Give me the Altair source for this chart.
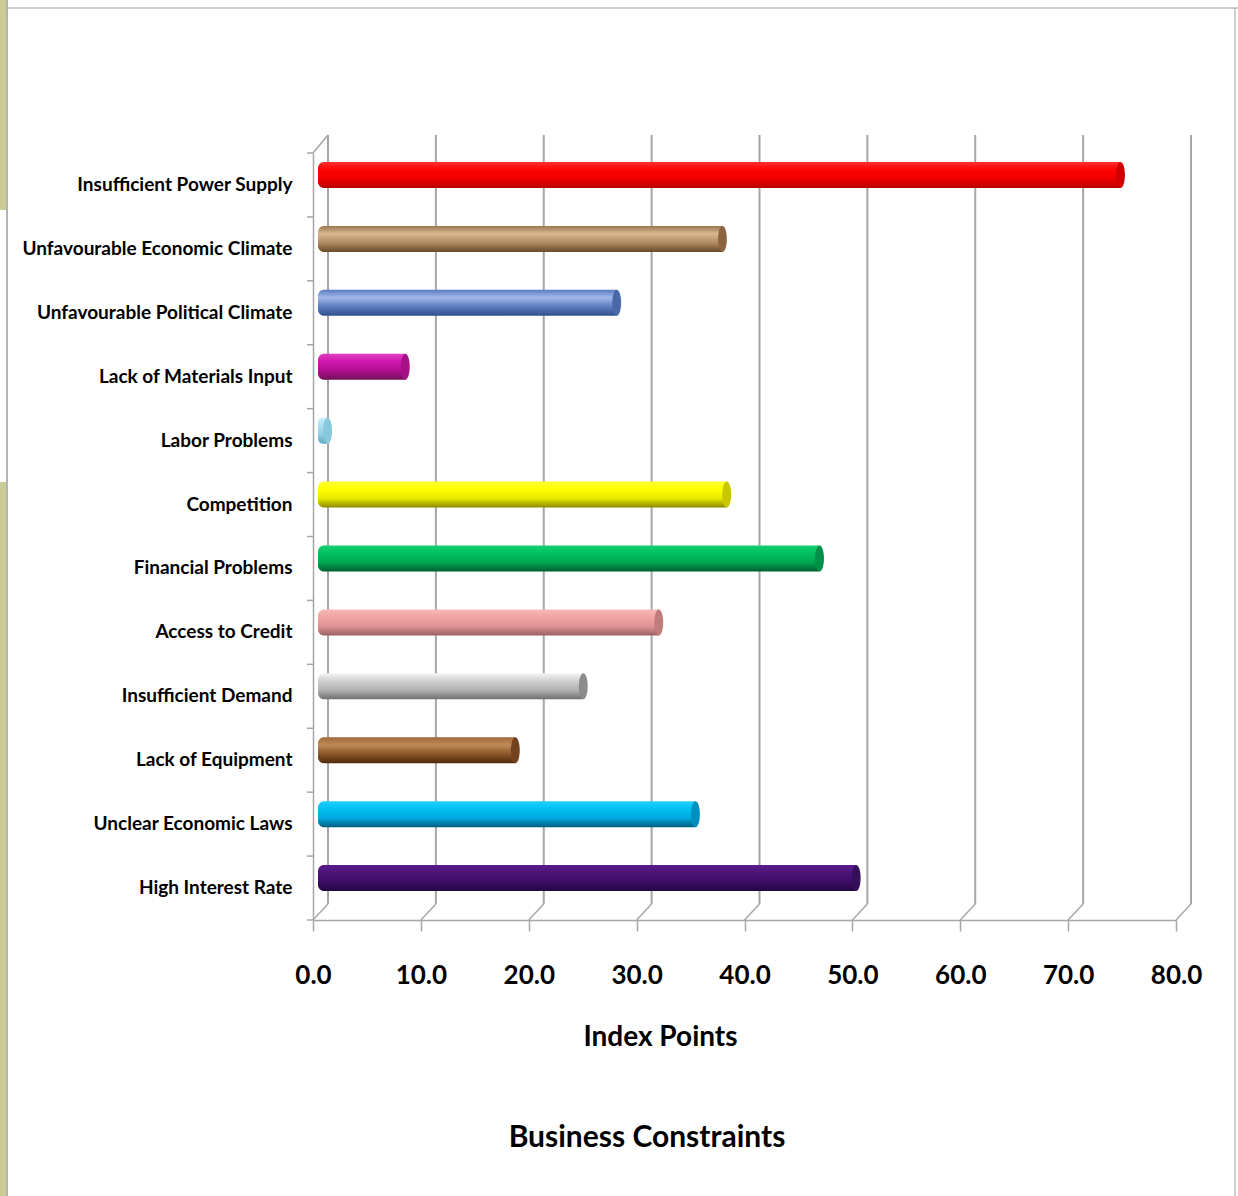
import altair as alt
import pandas as pd

categories = [
    "Insufficient Power Supply",
    "Unfavourable Economic Climate",
    "Unfavourable Political  Climate",
    "Lack of Materials  Input",
    "Labor Problems",
    "Competition",
    "Financial Problems",
    "Access to Credit",
    "Insufficient Demand",
    "Lack of Equipment",
    "Unclear Economic Laws",
    "High Interest Rate",
]
values = [74.8, 37.9, 28.1, 8.5, 1.3, 38.3, 46.9, 32.0, 25.0, 18.7, 35.4, 50.3]

# gradient stops (top -> bottom) and cap colour per bar
bar_stops = [
    ["#ff3030", "#ff0000", "#f00000", "#b80000"],
    ["#9a7650", "#d8b890", "#b08a60", "#6a4a2a"],
    ["#5a7cc0", "#a0b8ea", "#5c7cc0", "#2f4f8a"],
    ["#e040c0", "#d018b0", "#b01090", "#701058"],
    ["#c8eef8", "#a8e0f0", "#90d0e4", "#60a8c0"],
    ["#ffff30", "#ffff00", "#e8e800", "#8a8a00"],
    ["#10d070", "#00c060", "#00a850", "#005e30"],
    ["#f8b8b8", "#f0a4a4", "#e09494", "#9a6060"],
    ["#f4f4f4", "#d0d0d0", "#b0b0b0", "#707070"],
    ["#a06a38", "#c08a58", "#8a5628", "#4e2a0e"],
    ["#20d0ff", "#00c0f0", "#00a8e0", "#00607e"],
    ["#5a1a8c", "#4c1478", "#3e0c66", "#220640"],
]
cap_colors = ["#d00000", "#8a6540", "#4a68a8", "#a81088", "#88c8dc", "#c8c800",
              "#009048", "#c07c7c", "#8c8c8c", "#74421e", "#0090c0", "#34105a"]

ticks = [0, 10, 20, 30, 40, 50, 60, 70, 80]

W, H = 863, 767
FONT = "Lato"
GRID = "#a6a6a6"
DX, DY = 15, -16

df = pd.DataFrame({"category": categories, "value": values})
tick_df = pd.DataFrame({"t": ticks})
one = pd.DataFrame({"k": [0]})

xscale = alt.Scale(domain=[0, 80])
yscale = alt.Scale(domain=categories, paddingInner=0, paddingOuter=0)

layers = []

# frame decorations
deco = alt.Chart(one)
layers.append(deco.mark_rect(color="#cbcb96").encode(
    x=alt.value(-313), x2=alt.value(-307), y=alt.value(-153), y2=alt.value(57)))
layers.append(deco.mark_rect(color="#cbcb96").encode(
    x=alt.value(-313), x2=alt.value(-307), y=alt.value(329), y2=alt.value(1043)))
layers.append(deco.mark_rule(color="#b4b4b4", strokeWidth=2).encode(
    x=alt.value(-306), y=alt.value(-153), y2=alt.value(1043)))
layers.append(deco.mark_rule(color="#a0a0a0", strokeWidth=1).encode(
    x=alt.value(-306), x2=alt.value(925), y=alt.value(-145)))
layers.append(deco.mark_rule(color="#a0a0a0", strokeWidth=1).encode(
    x=alt.value(922), y=alt.value(-145), y2=alt.value(1043)))

# back wall gridlines
gl = alt.Chart(tick_df)
layers.append(gl.mark_rule(color=GRID, strokeWidth=2, xOffset=DX).encode(
    x=alt.X("t:Q", scale=xscale),
    y=alt.value(-18), y2=alt.value(H + DY)))
# floor diagonals
layers.append(gl.mark_rule(color=GRID, strokeWidth=1.5, x2Offset=DX).encode(
    x=alt.X("t:Q", scale=xscale), x2=alt.X2("t"),
    y=alt.value(H), y2=alt.value(H + DY)))
# top-left wall diagonal
layers.append(deco.mark_rule(color=GRID, strokeWidth=1.5).encode(
    x=alt.value(0), x2=alt.value(DX), y=alt.value(0), y2=alt.value(-18)))
# left ticks at band boundaries
layers.append(alt.Chart(df).mark_rule(color=GRID, strokeWidth=1.5, yOffset=-H / 24).encode(
    y=alt.Y("category:N", scale=yscale, sort=categories),
    x=alt.value(-6), x2=alt.value(0)))
layers.append(deco.mark_rule(color=GRID, strokeWidth=1.5).encode(
    y=alt.value(H), x=alt.value(-6), x2=alt.value(0)))

ellipse = "M0,-1 A0.34,1 0 1,1 0,1 A0.34,1 0 1,1 0,-1 Z"

for i, cat in enumerate(categories):
    grad = alt.Gradient(
        gradient="linear",
        stops=[alt.GradientStop(offset=o, color=c)
               for o, c in zip([0, 0.3, 0.65, 1], bar_stops[i])],
        x1=0, x2=0, y1=0, y2=1)
    base = alt.Chart(df).transform_filter(alt.datum.category == cat)
    layers.append(base.mark_bar(size=26, color=grad, cornerRadiusTopLeft=6,
                                cornerRadiusBottomLeft=6, xOffset=0.6, x2Offset=5,
                                yOffset=-10).encode(
        x=alt.X("value:Q", scale=xscale,
                axis=alt.Axis(values=ticks, format=".1f", title="Index Points",
                              grid=False)),
        x2=alt.datum(0),
        y=alt.Y("category:N", scale=yscale, sort=categories,
                axis=alt.Axis(title=None, ticks=False)),
    ))
    layers.append(base.mark_point(shape=ellipse, filled=True, size=676, opacity=1,
                                  color=cap_colors[i], xOffset=0.6, yOffset=-10).encode(
        x=alt.X("value:Q", scale=xscale),
        y=alt.Y("category:N", scale=yscale, sort=categories),
    ))

layers.append(deco.mark_text(text="Business Constraints", font=FONT, fontSize=30,
                             fontWeight="bold", color="black", baseline="middle",
                             align="center").encode(
    x=alt.value(334), y=alt.value(985)))

chart = alt.layer(*layers).properties(
    width=W, height=H,
    autosize=alt.AutoSizeParams(type="none"),
    padding={"left": 313, "top": 153, "right": 62, "bottom": 276},
    background="white",
).configure_view(stroke=None).configure_axisX(
    labelFont=FONT, labelFontSize=26, labelFontWeight="bold", labelColor="black",
    labelPadding=31, labelFlush=False, labelOverlap=False,
    tickSize=11, tickColor=GRID, tickWidth=1.5,
    domainColor=GRID, domainWidth=1.5,
    titleFont=FONT, titleFontSize=28, titleFontWeight="bold", titleColor="black",
    titlePadding=35, titleX=347, titleAlign="center",
).configure_axisY(
    labelFont=FONT, labelFontSize=19, labelFontWeight="bold", labelColor="black",
    labelPadding=21, labelLimit=0, domainColor=GRID, domainWidth=1.5,
)

chart.save("out.html", embed_options={"renderer": "svg", "actions": False})
